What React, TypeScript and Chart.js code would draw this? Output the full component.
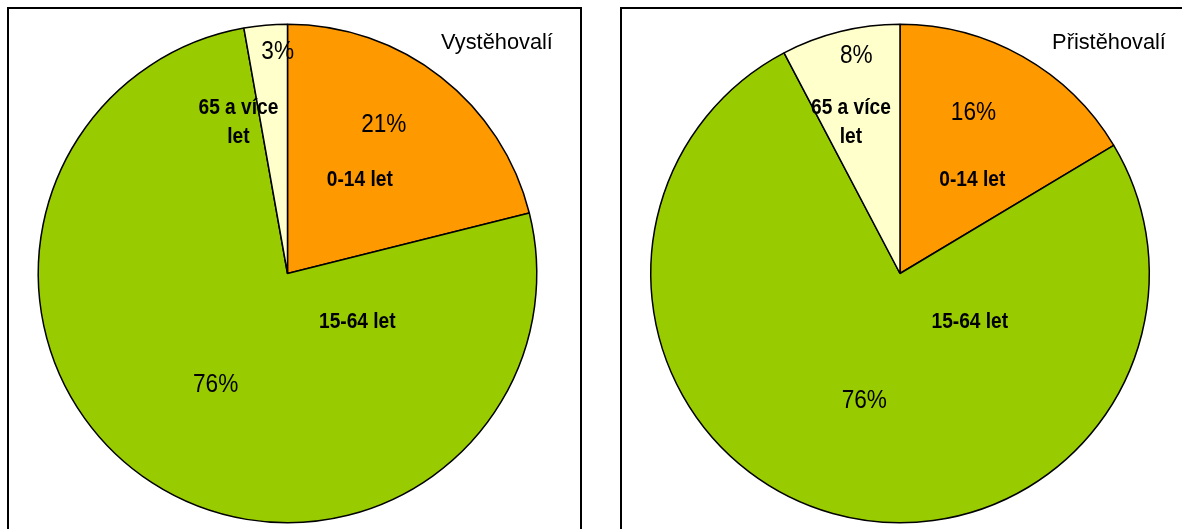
import React, { useEffect, useRef } from "react";
import { Chart, registerables } from "chart.js";

Chart.register(...registerables);

// ---- data ----
const categories = ["0-14 let", "15-64 let", "65 a více let"];
const categoryLabelLines = [["0-14 let"], ["15-64 let"], ["65 a více", "let"]];
const emigrantValues = [21.1, 76.1, 2.8]; // Vystěhovalí (%)
const immigrantValues = [16.4, 75.9, 7.7]; // Přistěhovalí (%)
const panelTitles = ["Vystěhovalí", "Přistěhovalí"];
const sliceColors = ["#FF9900", "#99CC00", "#FFFFCC"];

// ---- label style (fractions of radius / degrees) ----
const pctStyle = [
  { r: 0.71, shift: -5 },
  { r: 0.53, shift: 0 },
  { r: 0.89, shift: 2.5 },
];
const catOffsets = [
  [0.29, -0.375],
  [0.28, 0.193],
  [-0.197, -0.608],
];
const FONT = '"Liberation Sans", Arial, Helvetica, sans-serif';

function drawText(
  ctx: CanvasRenderingContext2D,
  text: string,
  x: number,
  y: number,
  font: string,
  sx: number,
  baseline: CanvasTextBaseline = "middle"
) {
  ctx.save();
  ctx.translate(x, y);
  ctx.scale(sx, 1);
  ctx.font = font;
  ctx.fillStyle = "#000";
  ctx.textAlign = "center";
  ctx.textBaseline = baseline;
  ctx.fillText(text, 0, 0);
  ctx.restore();
}

const labelPlugin = {
  id: "sliceLabels",
  afterDatasetsDraw(chart: any, _args: any, opts: any) {
    const ctx = chart.ctx as CanvasRenderingContext2D;
    const meta = chart.getDatasetMeta(0);
    const values = chart.data.datasets[0].data as number[];
    meta.data.forEach((arc: any, i: number) => {
      const { x, y, startAngle, endAngle, outerRadius } = arc.getProps(
        ["x", "y", "startAngle", "endAngle", "outerRadius"],
        true
      );
      const mid = (startAngle + endAngle) / 2 + (pctStyle[i].shift * Math.PI) / 180;
      const r = outerRadius * pctStyle[i].r;
      drawText(
        ctx,
        Math.round(values[i]) + "%",
        x + r * Math.cos(mid),
        y + r * Math.sin(mid),
        `26px ${FONT}`,
        0.87
      );
      const lines = categoryLabelLines[i];
      const [ox, oy] = catOffsets[i];
      const cx = x + ox * outerRadius;
      const cy = y + oy * outerRadius;
      lines.forEach((ln, j) =>
        drawText(ctx, ln, cx, cy + (j - (lines.length - 1) / 2) * 29, `bold 22px ${FONT}`, 0.87)
      );
    });
    if (opts && opts.title) {
      drawText(ctx, opts.title, opts.titleX, opts.titleY, `22px ${FONT}`, 0.99, "alphabetic");
    }
  },
};

type PieProps = {
  values: number[];
  title: string;
  left: number;
  width: number;
  padding: { left: number; right: number; top: number; bottom: number };
  titleX: number;
};

function PiePanel({ values, title, left, width, padding, titleX }: PieProps) {
  const ref = useRef<HTMLCanvasElement | null>(null);
  useEffect(() => {
    if (!ref.current) return;
    const chart = new Chart(ref.current, {
      type: "pie",
      data: {
        labels: categories,
        datasets: [
          {
            data: values,
            backgroundColor: sliceColors,
            borderColor: "#000",
            borderWidth: 1.5,
          },
        ],
      },
      options: {
        animation: false,
        responsive: false,
        maintainAspectRatio: false,
        layout: { padding },
        plugins: {
          legend: { display: false },
          tooltip: { enabled: false },
          title: { display: false },
          // @ts-ignore
          sliceLabels: { title, titleX, titleY: 40 },
        },
      } as any,
      plugins: [labelPlugin as any],
    });
    return () => chart.destroy();
  }, []);
  return (
    <canvas
      ref={ref}
      width={width}
      height={520}
      style={{ position: "absolute", left, top: 9, width, height: 520 }}
    />
  );
}

export default function App() {
  return (
    <div
      style={{
        position: "fixed",
        left: 0,
        top: 0,
        width: 1182,
        height: 529,
        overflow: "hidden",
        background: "#fff",
      }}
    >
      <div
        style={{
          position: "absolute",
          left: 7,
          top: 7,
          width: 575,
          height: 600,
          boxSizing: "border-box",
          border: "2px solid #000",
        }}
      />
      <div
        style={{
          position: "absolute",
          left: 620,
          top: 7,
          width: 700,
          height: 600,
          boxSizing: "border-box",
          border: "2px solid #000",
        }}
      />
      <PiePanel
        values={emigrantValues}
        title={panelTitles[0]}
        left={9}
        width={570}
        padding={{ left: 28.5, top: 14.5, right: 41.5, bottom: 5.5 }}
        titleX={488}
      />
      <PiePanel
        values={immigrantValues}
        title={panelTitles[1]}
        left={622}
        width={560}
        padding={{ left: 28, top: 14.5, right: 32, bottom: 5.5 }}
        titleX={487}
      />
    </div>
  );
}
